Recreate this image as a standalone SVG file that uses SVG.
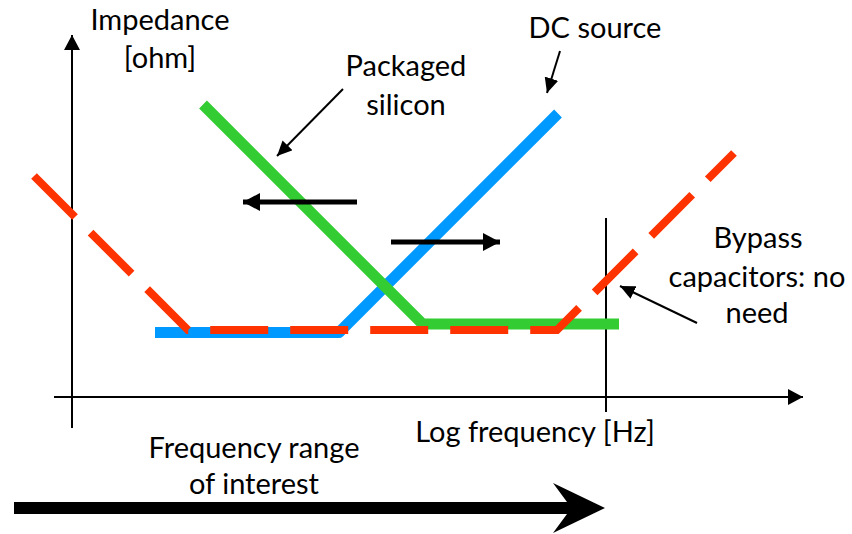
<svg xmlns="http://www.w3.org/2000/svg" width="852" height="534" viewBox="0 0 852 534">
<style>
.t{font-family:Lato,"Open Sans","Liberation Sans",sans-serif;font-size:29px;fill:#000;text-anchor:middle}
.ax{stroke:#000;stroke-width:2;fill:none}
.ptr{stroke:#000;stroke-width:2;fill:none}
.mv{stroke:#000;stroke-width:5;fill:none}
</style>
<defs>
<marker id="ah" markerUnits="userSpaceOnUse" markerWidth="16" markerHeight="16" refX="15" refY="8" orient="auto"><path d="M0,0 L15,8 L0,16 Z" fill="#000"/></marker>
<marker id="ap" markerUnits="userSpaceOnUse" markerWidth="16" markerHeight="14" refX="15" refY="7" orient="auto"><path d="M0,0 L15,7 L0,14 Z" fill="#000"/></marker>
<marker id="am" markerUnits="userSpaceOnUse" markerWidth="18" markerHeight="18" refX="17" refY="9" orient="auto"><path d="M0,0 L17,9 L0,18 Z" fill="#000"/></marker>
</defs>
<g id="axes">
<line class="ax" x1="72" y1="428" x2="72" y2="35" marker-end="url(#ah)"/>
<line class="ax" x1="54" y1="397" x2="803" y2="397" marker-end="url(#ah)"/>
<line class="ax" x1="606" y1="218" x2="606" y2="412"/>
</g>
<g id="curves">
<path id="dc-curve" d="M155,332.5 L339,332.5 L558,113.5" fill="none" stroke="#0099FF" stroke-width="11" stroke-linejoin="round"/>
<path id="silicon-curve" d="M203,104.5 L422.5,324 L619,324" fill="none" stroke="#33CC33" stroke-width="11"/>
<path id="bypass-curve" d="M34,176 L188,330 L557,330 L734,153" fill="none" stroke="#FF3300" stroke-width="8" stroke-dasharray="58 22"/>
</g>
<g id="connectors">
<line class="mv" x1="357" y1="202" x2="243" y2="202" marker-end="url(#am)"/>
<line class="mv" x1="391" y1="242" x2="500" y2="242" marker-end="url(#am)"/>
<line class="ptr" x1="343" y1="89" x2="277" y2="156" marker-end="url(#ap)"/>
<line class="ptr" x1="560" y1="51" x2="547" y2="93" marker-end="url(#ap)"/>
<line class="ptr" x1="697" y1="323" x2="620" y2="286" marker-end="url(#ap)"/>
<path d="M14,502 L567,502 L553,483 L605,508 L553,533 L567,514 L14,514 Z" fill="#000"/>
</g>
<g id="label-impedance"><text class="t" x="160" y="30">Impedance</text><text class="t" x="160" y="68">[ohm]</text></g>
<g id="label-packaged"><text class="t" x="406" y="76">Packaged</text><text class="t" x="406" y="115">silicon</text></g>
<g id="label-dc"><text class="t" x="595" y="38">DC source</text></g>
<g id="label-bypass"><text class="t" x="758" y="248">Bypass</text><text class="t" x="757" y="287">capacitors: no</text><text class="t" x="757" y="323">need</text></g>
<g id="label-logf"><text class="t" x="535" y="442">Log frequency [Hz]</text></g>
<g id="label-range"><text class="t" x="254" y="458">Frequency range</text><text class="t" x="254" y="494">of interest</text></g>
</svg>
